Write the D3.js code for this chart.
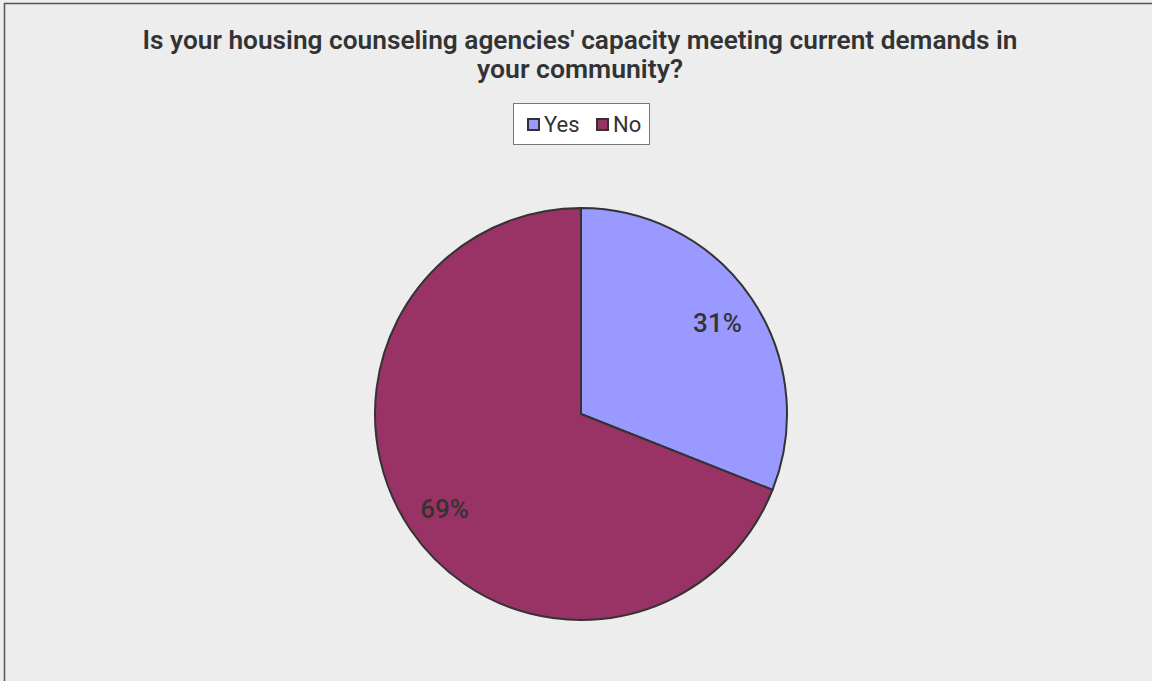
<!DOCTYPE html>
<html><head><meta charset="utf-8">
<script src="https://cdn.jsdelivr.net/npm/d3@7"></script>
<style>html,body{margin:0;padding:0;background:#ededed;overflow:hidden}</style>
</head><body>
<svg id="c" width="1152" height="681"></svg>
<script>
const categories = ["Yes", "No"];
const values = [31, 69];
const colors = ["#9999ff", "#993366"];
const titleLines = ["Is your housing counseling agencies' capacity meeting current demands in", "your community?"];

const svg = d3.select("#c");
svg.append("rect").attr("x", 0).attr("y", 0).attr("width", 1152).attr("height", 681).attr("fill", "#ededed");
svg.append("path").attr("d", "M4.5,690 L4.5,3.5 L1160,3.5").attr("fill", "none").attr("stroke", "#555").attr("stroke-width", 1.5);

const font = "Roboto, 'Liberation Sans', Arial, sans-serif";
const titleLens = [875, 206];
svg.selectAll("text.title").data(titleLines).join("text")
  .attr("class", "title")
  .attr("x", 580).attr("y", (d, i) => 49 + i * 29)
  .attr("text-anchor", "middle")
  .attr("textLength", (d, i) => titleLens[i]).attr("lengthAdjust", "spacingAndGlyphs")
  .attr("font-family", font).attr("font-weight", 600).attr("font-size", 26)
  .attr("fill", "#333").text(d => d);

// legend
const lg = svg.append("g");
lg.append("rect").attr("x", 513.5).attr("y", 103.5).attr("width", 136).attr("height", 41)
  .attr("fill", "#fff").attr("stroke", "#777").attr("stroke-width", 1);
const legX = [528, 597];
categories.forEach((c, i) => {
  lg.append("rect").attr("x", legX[i]).attr("y", 119).attr("width", 11).attr("height", 11)
    .attr("fill", colors[i]).attr("stroke", "#333").attr("stroke-width", 2);
  lg.append("text").attr("x", legX[i] + 16).attr("y", 132)
    .attr("font-family", font).attr("font-size", 22).attr("fill", "#333").text(c);
});

const cx = 581, cy = 414, R = 206;
const pie = d3.pie().sort(null).value(d => d)(values);
const arc = d3.arc().innerRadius(0).outerRadius(R);
const labelArc = d3.arc().innerRadius(165).outerRadius(165);
const g = svg.append("g").attr("transform", `translate(${cx},${cy})`);
g.selectAll("path").data(pie).join("path")
  .attr("d", arc).attr("fill", (d, i) => colors[i])
  .attr("stroke", "#333").attr("stroke-width", 2).attr("stroke-linejoin", "round");
g.selectAll("text").data(pie).join("text")
  .attr("transform", d => `translate(${labelArc.centroid(d)})`)
  .attr("text-anchor", "middle").attr("dy", "0.42em")
  .attr("font-family", font).attr("font-weight", 500).attr("font-size", 26)
  .attr("fill", "#333").text(d => d.data + "%");
</script>
</body></html>
